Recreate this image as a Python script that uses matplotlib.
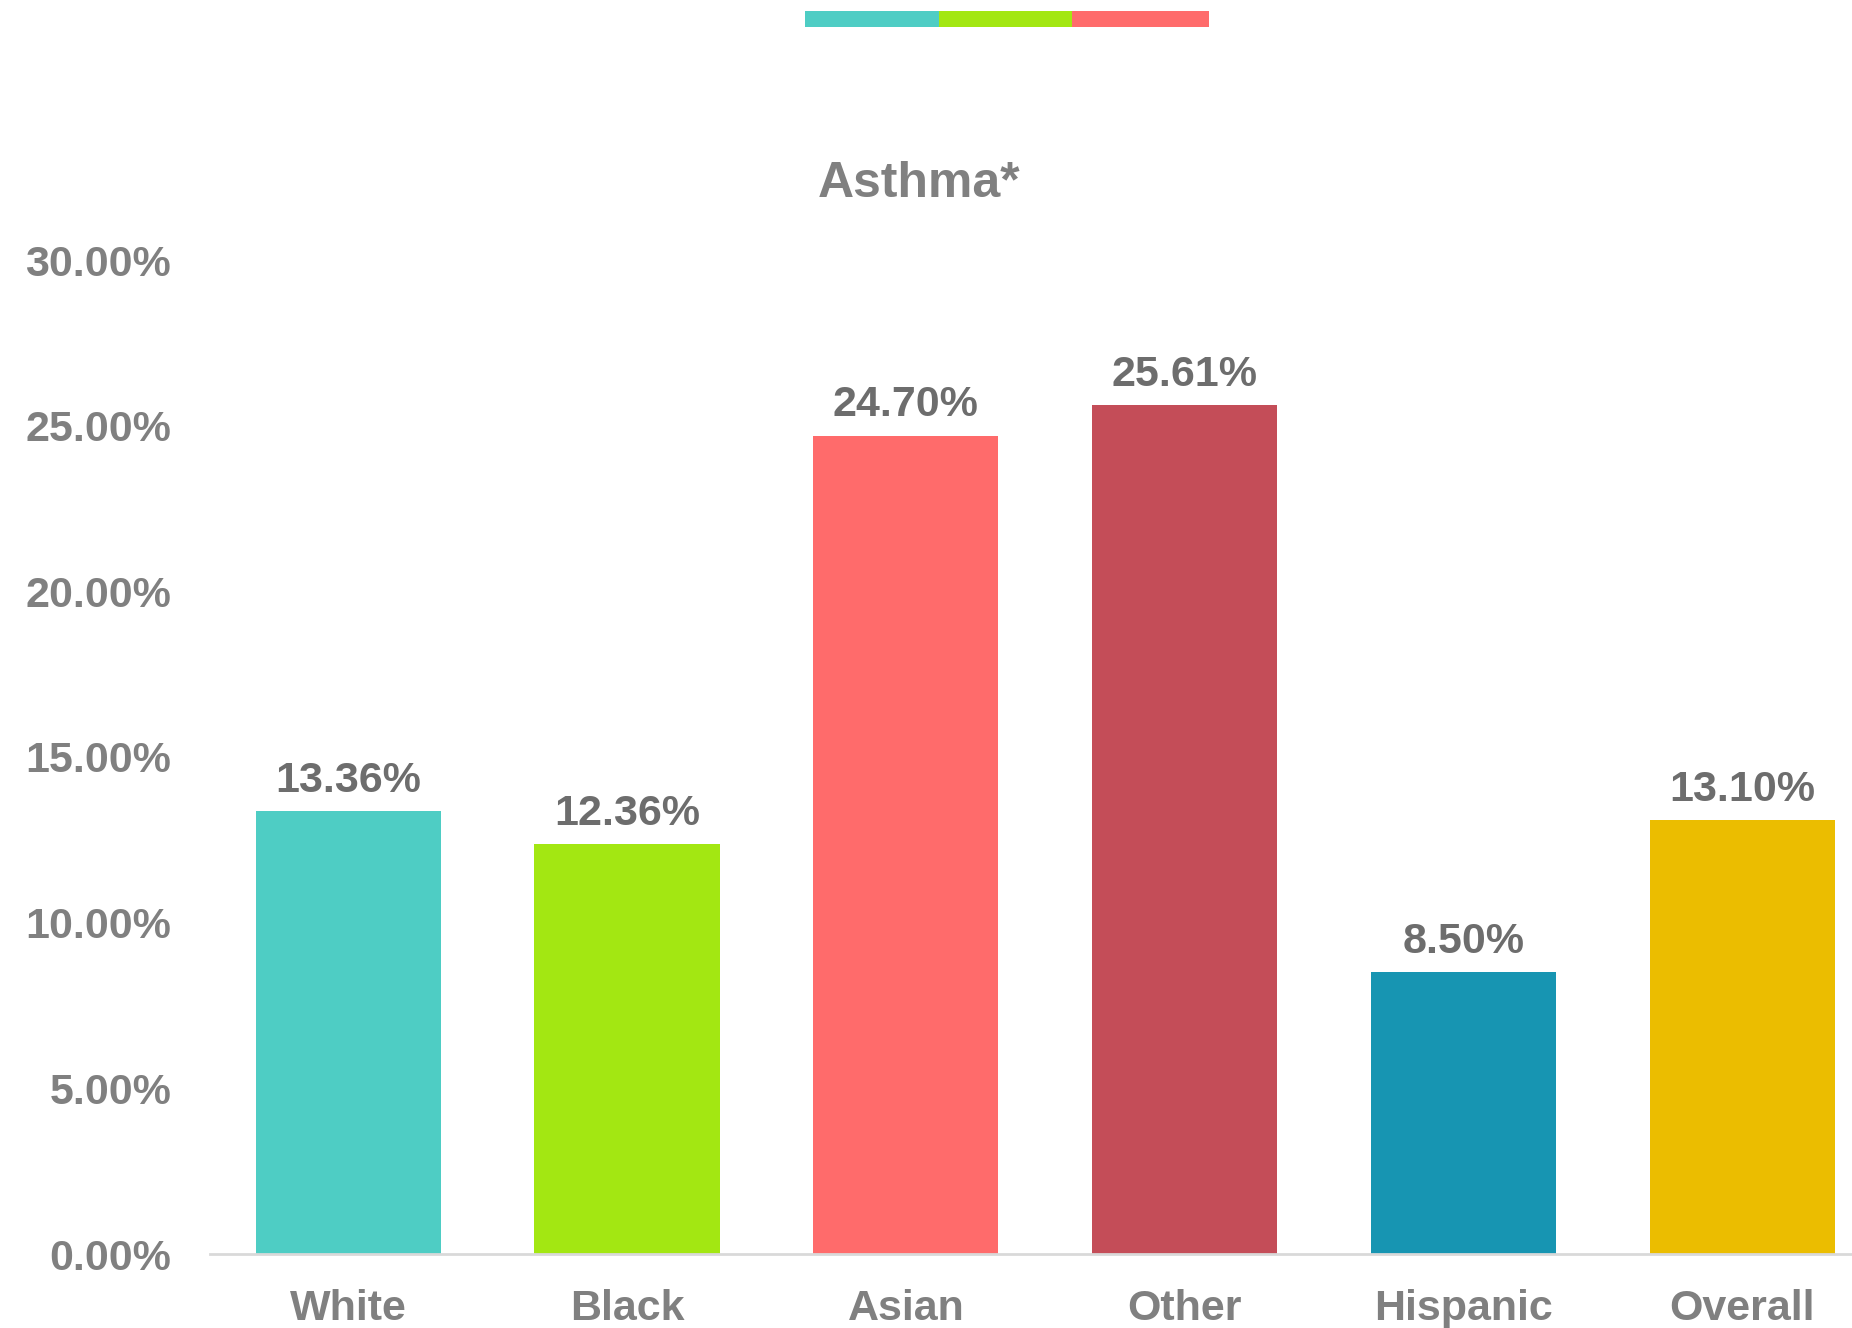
import matplotlib
matplotlib.use("Agg")
import matplotlib.pyplot as plt
from matplotlib.patches import Rectangle
from matplotlib.ticker import FuncFormatter

# --- Data ---
groups = ["White", "Black", "Asian", "Other", "Hispanic", "Overall"]
asthma_pct = [13.36, 12.36, 24.70, 25.61, 8.50, 13.10]
bar_colors = ["#4ECDC4", "#A3E712", "#FF6B6B", "#C44D58", "#1795B2", "#EBBD00"]
y_ticks = [0, 5, 10, 15, 20, 25, 30]

plt.rcParams["font.family"] = ["Liberation Sans", "DejaVu Sans"]
plt.rcParams["font.weight"] = "bold"

W, H = 1852, 1328
fig = plt.figure(figsize=(W / 100, H / 100), dpi=100)

# axes runs off the right edge a little, like the exported chart
ax = fig.add_axes([210 / W, 74 / H, (W - 210) / W, 994 / H])
x = range(len(groups))
ax.bar(x, asthma_pct, width=0.664, color=bar_colors)

x0 = -0.4957
ax.set_xlim(x0, x0 + (W - 210) / 278.8)
ax.set_ylim(0, 30)
ax.set_xticks(list(x))
ax.set_xticklabels(groups)
ax.set_yticks(y_ticks)
ax.yaxis.set_major_formatter(FuncFormatter(lambda v, p: f"{v:.2f}%"))
ax.tick_params(axis="both", length=0, labelsize=31, labelcolor="#808080")
ax.tick_params(axis="y", pad=28)
ax.tick_params(axis="x", pad=25)

for s in ["top", "right", "left"]:
    ax.spines[s].set_visible(False)
ax.spines["bottom"].set_color("#D9D9D9")
ax.spines["bottom"].set_linewidth(2)

# verdier over stolpene
for i, v in enumerate(asthma_pct):
    ax.annotate(f"{v:.2f}%", (i, v), xytext=(0, 14), textcoords="offset points",
                ha="center", va="baseline", fontsize=31, fontweight="bold",
                color="#6D6D6D")

fig.text(919 / W, 1 - 184 / H, "Asthma*", ha="center", va="center",
         fontsize=36, fontweight="bold", color="#808080")

# fargestripe øverst (legend uten tekst)
strip_x = [805, 939, 1072, 1209]
for i in range(3):
    fig.add_artist(Rectangle((strip_x[i] / W, 1 - 27 / H),
                             (strip_x[i + 1] - strip_x[i]) / W, 16 / H,
                             transform=fig.transFigure, color=bar_colors[i], lw=0))

fig.savefig("out.png", dpi=100, facecolor="white")
